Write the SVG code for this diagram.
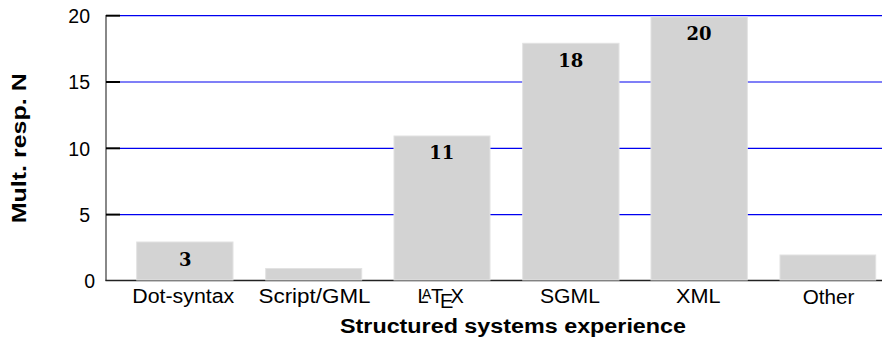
<svg xmlns="http://www.w3.org/2000/svg" width="882" height="344" viewBox="0 0 882 344">
<style>
.grid{stroke:#0000f0;stroke-width:1.2;fill:none}
.tick{stroke:#000;stroke-width:2}
.bar{fill:#d3d3d3;stroke:#e2e2e2;stroke-width:1}
.ylab{font-family:"Liberation Sans",Arial,sans-serif;font-size:19.5px;fill:#000;text-anchor:end}
.cat{font-family:"Liberation Sans",Arial,sans-serif;font-size:20px;fill:#000;text-anchor:middle}
.val{font-family:"DejaVu Serif",serif;font-weight:bold;font-size:18px;fill:#000;text-anchor:middle}
.title{font-family:"Liberation Sans",Arial,sans-serif;font-weight:bold;font-size:20px;fill:#000;text-anchor:middle}
</style>
<rect width="882" height="344" fill="#fff"/>
<g id="grid">
<line class="grid" x1="120" y1="15.7" x2="882" y2="15.7"/>
<line class="grid" x1="120" y1="82" x2="882" y2="82"/>
<line class="grid" x1="120" y1="148.3" x2="882" y2="148.3"/>
<line class="grid" x1="120" y1="214.6" x2="882" y2="214.6"/>
</g>
<g id="axes">
<line x1="106" y1="15" x2="106" y2="281" stroke="#606060" stroke-width="1.5"/>
<line x1="105.5" y1="280.5" x2="882" y2="280.5" stroke="#222" stroke-width="1.5"/>
<line class="tick" x1="106" y1="15.7" x2="120" y2="15.7"/>
<line class="tick" x1="106" y1="82" x2="120" y2="82"/>
<line class="tick" x1="106" y1="148.3" x2="120" y2="148.3"/>
<line class="tick" x1="106" y1="214.6" x2="120" y2="214.6"/>
<text class="ylab" x="90" y="23.3">20</text>
<text class="ylab" x="90" y="89.3">15</text>
<text class="ylab" x="90" y="155.8">10</text>
<text class="ylab" x="90" y="222.2">5</text>
<text class="ylab" x="95" y="288">0</text>
</g>
<g id="bar-dot-syntax">
<rect class="bar" x="136.7" y="242" width="96.3" height="38"/>
<text class="val" x="185.3" y="265.5">3</text>
<text class="cat" x="183.3" y="303" textLength="102" lengthAdjust="spacingAndGlyphs">Dot-syntax</text>
</g>
<g id="bar-script-gml">
<rect class="bar" x="265.7" y="268.5" width="96" height="11.5"/>
<text class="cat" x="314.5" y="303" textLength="112" lengthAdjust="spacingAndGlyphs">Script/GML</text>
</g>
<g id="bar-latex">
<rect class="bar" x="394" y="136" width="96" height="144"/>
<text class="val" x="441.7" y="159.3">11</text>
<text class="cat" style="text-anchor:start" y="303"><tspan x="417.5">L</tspan><tspan x="422" y="298.5" font-size="14px">A</tspan><tspan x="431" y="303">T</tspan><tspan x="440" y="307.5">E</tspan><tspan x="450.5" y="303">X</tspan></text>
</g>
<g id="bar-sgml">
<rect class="bar" x="522.7" y="43.3" width="96.3" height="236.7"/>
<text class="val" x="570.8" y="67">18</text>
<text class="cat" x="570" y="303" textLength="60" lengthAdjust="spacingAndGlyphs">SGML</text>
</g>
<g id="bar-xml">
<rect class="bar" x="651" y="17" width="96.3" height="263"/>
<text class="val" x="699" y="40">20</text>
<text class="cat" x="698.3" y="303" textLength="44.5" lengthAdjust="spacingAndGlyphs">XML</text>
</g>
<g id="bar-other">
<rect class="bar" x="780" y="255" width="95.7" height="25"/>
<text class="cat" x="828.5" y="304" textLength="51.7" lengthAdjust="spacingAndGlyphs">Other</text>
</g>
<g id="titles">
<text class="title" x="513" y="333" textLength="346" lengthAdjust="spacingAndGlyphs">Structured systems experience</text>
<text class="title" transform="translate(26,148.3) rotate(-90)" x="0" y="0" textLength="150" lengthAdjust="spacingAndGlyphs">Mult. resp. N</text>
</g>
</svg>
